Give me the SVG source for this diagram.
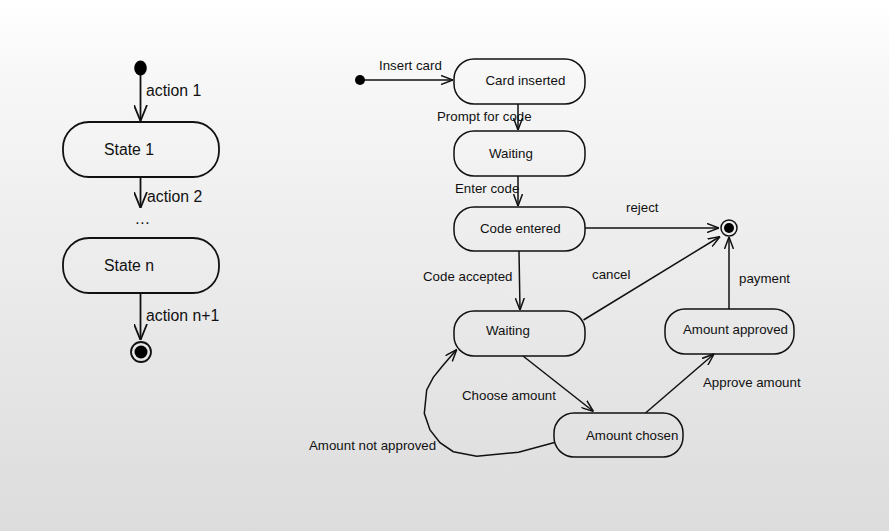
<svg xmlns="http://www.w3.org/2000/svg" width="889" height="531" viewBox="0 0 889 531">
<defs>
<linearGradient id="bg" x1="0" y1="0" x2="0" y2="1">
<stop offset="0" stop-color="#ffffff"/>
<stop offset="0.15" stop-color="#f7f7f7"/>
<stop offset="1" stop-color="#dcdcdc"/>
</linearGradient>
<marker id="big" viewBox="0 0 16 14" refX="16" refY="7" markerWidth="16" markerHeight="14" markerUnits="userSpaceOnUse" orient="auto">
<path d="M0,0.5 L16,7 L0,13.5" fill="none" stroke="#111" stroke-width="1.8"/>
</marker>
<marker id="sm" viewBox="0 0 12 10" refX="12" refY="5" markerWidth="12" markerHeight="10" markerUnits="userSpaceOnUse" orient="auto">
<path d="M0,0.5 L12,5 L0,9.5" fill="none" stroke="#111" stroke-width="1.5"/>
</marker>
</defs>
<style>
.st{fill:none;stroke:#111;stroke-width:1.8}
.sr{fill:none;stroke:#111;stroke-width:1.5}
.c1{fill:none;stroke:#111;stroke-width:1.8;marker-end:url(#big)}
.c2{fill:none;stroke:#111;stroke-width:1.5;marker-end:url(#sm)}
.tl{font-family:"Liberation Sans",Arial,sans-serif;font-size:15.8px;fill:#111}
.tr{font-family:"Liberation Sans",Arial,sans-serif;font-size:13.3px;fill:#111}
</style>
<rect width="889" height="531" fill="url(#bg)"/>

<g id="connectors">
<line class="c1" x1="140.5" y1="75" x2="140.5" y2="121"/>
<line class="c1" x1="140.5" y1="177" x2="140.5" y2="208"/>
<line class="c1" x1="140.5" y1="293" x2="140.5" y2="340"/>
<line class="c2" x1="360" y1="80" x2="453" y2="80"/>
<line class="c2" x1="518" y1="104" x2="518" y2="130"/>
<line class="c2" x1="518" y1="176" x2="518" y2="206"/>
<line class="c2" x1="585" y1="228" x2="719" y2="228"/>
<line class="c2" x1="519" y1="251" x2="520" y2="310"/>
<line class="c2" x1="583.5" y1="320" x2="720" y2="236.5"/>
<line class="c2" x1="729" y1="309" x2="729" y2="237"/>
<line class="c2" x1="523" y1="356" x2="593.5" y2="411.5"/>
<line class="c2" x1="645.5" y1="413" x2="714" y2="354"/>
<polyline class="c2" points="554.5,442.5 518.5,452.3 476.7,456.3 453.3,451.7 440,442.7 430,430 424.3,413.3 426.7,390 433.3,377.3 443.3,365 456.7,349.5"/>
</g>

<g id="labels">
<text class="tl" x="146" y="96">action 1</text>
<text class="tl" x="147" y="202">action 2</text>
<text class="tl" x="134.5" y="224">…</text>
<text class="tl" x="146" y="321">action n+1</text>
<text class="tr" x="379" y="70">Insert card</text>
<text class="tr" x="437" y="121">Prompt for code</text>
<text class="tr" x="455" y="193">Enter code</text>
<text class="tr" x="626" y="212">reject</text>
<text class="tr" x="423" y="281">Code accepted</text>
<text class="tr" x="592" y="279">cancel</text>
<text class="tr" x="739" y="283">payment</text>
<text class="tr" x="462" y="400">Choose amount</text>
<text class="tr" x="703" y="387">Approve amount</text>
<text class="tr" x="309" y="450">Amount not approved</text>
</g>

<g id="init1"><ellipse cx="140.5" cy="68" rx="6.3" ry="7.5" fill="#000"/></g>
<g id="state1"><rect class="st" x="63" y="122" width="156" height="55" rx="26"/><text class="tl" x="104" y="155">State 1</text></g>
<g id="staten"><rect class="st" x="63" y="238" width="156" height="55" rx="26"/><text class="tl" x="104" y="271">State n</text></g>
<g id="final1"><circle cx="141" cy="352" r="10" fill="none" stroke="#111" stroke-width="1.8"/><circle cx="141" cy="352" r="6.5" fill="#000"/></g>

<g id="init2"><circle cx="360" cy="80" r="5" fill="#000"/></g>
<g id="cardInserted"><rect class="sr" x="454" y="59" width="131" height="45" rx="20"/><text class="tr" x="485.5" y="85">Card inserted</text></g>
<g id="waiting1"><rect class="sr" x="454" y="131" width="131" height="45" rx="20"/><text class="tr" x="489" y="158">Waiting</text></g>
<g id="codeEntered"><rect class="sr" x="454" y="207" width="131" height="44" rx="20"/><text class="tr" x="480" y="233">Code entered</text></g>
<g id="waiting2"><rect class="sr" x="454" y="311" width="131" height="45" rx="20"/><text class="tr" x="486" y="335">Waiting</text></g>
<g id="amountApproved"><rect class="sr" x="665" y="309" width="129" height="45" rx="20"/><text class="tr" x="683" y="334">Amount approved</text></g>
<g id="amountChosen"><rect class="sr" x="554" y="413" width="129" height="44" rx="20"/><text class="tr" x="586" y="439.5">Amount chosen</text></g>
<g id="final2"><circle cx="729" cy="228" r="8" fill="none" stroke="#111" stroke-width="1.5"/><circle cx="729" cy="228" r="5" fill="#000"/></g>
</svg>
